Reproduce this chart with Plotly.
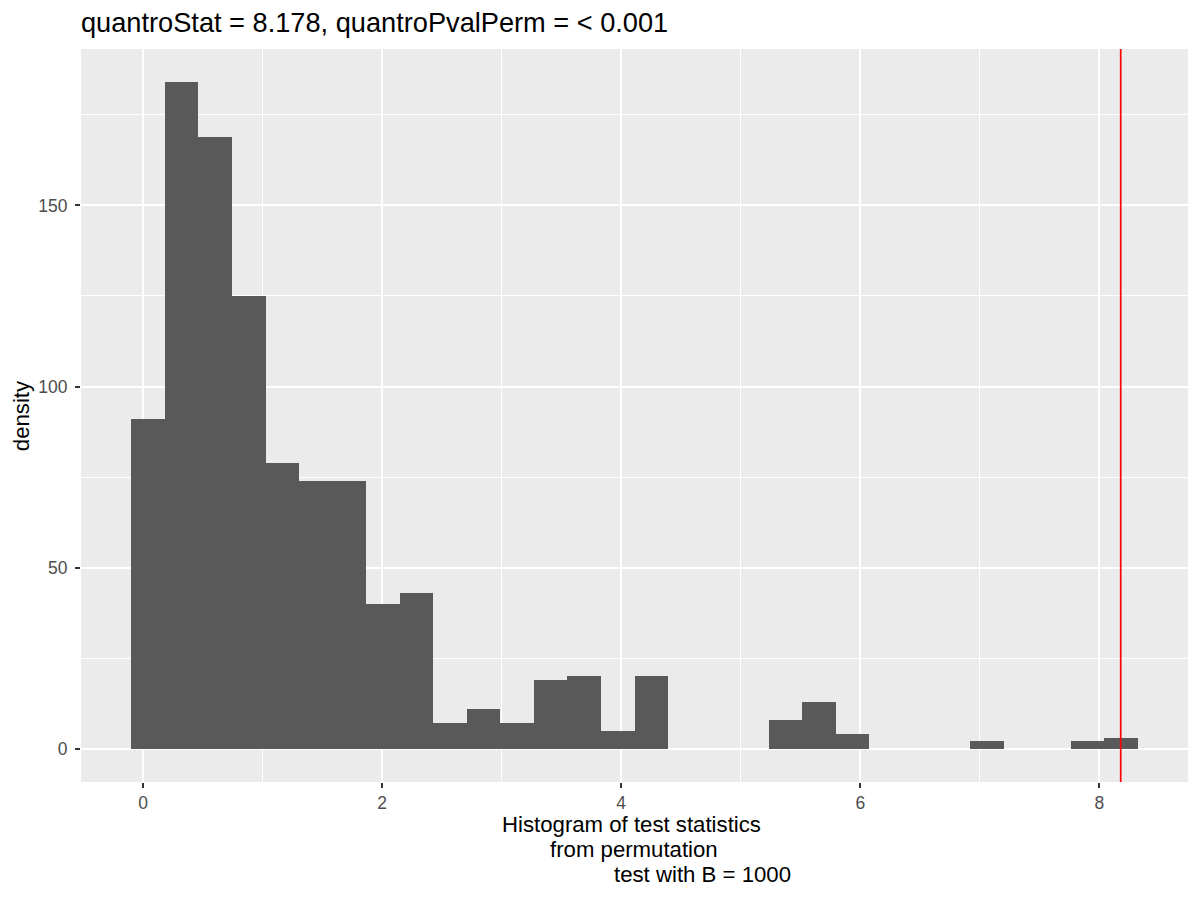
import plotly.graph_objects as go

# ---- data ----
bin_start = -0.098          # left edge of first bin
bin_width = 0.2806          # width of each bin
counts = [91, 184, 169, 125, 79, 74, 74, 40, 43, 7,
          11, 7, 19, 20, 5, 20, 0, 0, 0, 8,
          13, 4, 0, 0, 0, 2, 0, 0, 2, 3]
quantro_stat = 8.178
x_ticks = [0, 2, 4, 6, 8]
y_ticks = [0, 50, 100, 150]
title_text = "quantroStat = 8.178, quantroPvalPerm = < 0.001"
xlab_lines = ["Histogram of test statistics", "from permutation", "test with B = 1000"]
ylab = "density"

centers = [bin_start + bin_width * (i + 0.5) for i in range(len(counts))]

# ggplot-like 5% expansion
x_lo = bin_start
x_hi = bin_start + bin_width * len(counts)
xpad = 0.05 * (x_hi - x_lo)
ymax = max(counts)
ypad = 0.05 * ymax

FONT = "Liberation Sans, Arial, sans-serif"
TICK_SIZE = 17.5
W, H = 1200, 900
ML, MR, MT, MB = 81, 12, 49, 118
PW = W - ML - MR
PH = H - MT - MB

fig = go.Figure()
fig.add_trace(go.Bar(
    x=centers, y=counts, width=bin_width,
    marker=dict(color="#595959", line=dict(width=0)),
    showlegend=False, hoverinfo="x+y",
))

fig.add_shape(type="line", xref="x", yref="paper",
              x0=quantro_stat, x1=quantro_stat, y0=0, y1=1,
              line=dict(color="#FF0000", width=1.7))

def px_to_paper_x(px):
    return (px - ML) / PW

def px_to_paper_y(py):
    return (MT + PH - py) / PH

# x-axis title lines (ggplot-like multi-line label)
xlab_centers = [631.7, 633.5, 702.7]
xlab_mid = [824.5, 849.5, 874.5]
for txt, cx, cy in zip(xlab_lines, xlab_centers, xlab_mid):
    fig.add_annotation(text=txt, xref="paper", yref="paper",
                       x=px_to_paper_x(cx), y=px_to_paper_y(cy),
                       xanchor="center", yanchor="middle", showarrow=False,
                       font=dict(family=FONT, size=22.2, color="#000000"))

fig.add_annotation(text=ylab, xref="paper", yref="paper",
                   x=px_to_paper_x(21.7), y=0.5, textangle=-90,
                   xanchor="center", yanchor="middle", showarrow=False,
                   font=dict(family=FONT, size=22.2, color="#000000"))

fig.update_layout(
    width=W, height=H,
    margin=dict(l=ML, r=MR, t=MT, b=MB, pad=0),
    paper_bgcolor="white",
    plot_bgcolor="#EBEBEB",
    bargap=0,
    font=dict(family=FONT),
    title=dict(text=title_text, x=px_to_paper_x(81), xref="paper", xanchor="left",
               yref="container", y=1 - 22.5 / H, yanchor="middle",
               font=dict(family=FONT, size=27.2, color="#000000")),
)
fig.update_xaxes(range=[x_lo - xpad, x_hi + xpad], tickvals=x_ticks,
                 ticktext=[str(v) for v in x_ticks],
                 showgrid=True, gridcolor="white", gridwidth=2,
                 minor=dict(dtick=1, tick0=0, showgrid=True, gridcolor="white", gridwidth=1),
                 zeroline=False, showline=False,
                 ticks="outside", ticklen=5, tickwidth=1.6, tickcolor="#333333",
                 tickfont=dict(family=FONT, size=TICK_SIZE, color="#4D4D4D"))
fig.update_yaxes(range=[-ypad, ymax + ypad], tickvals=y_ticks,
                 ticktext=[str(v) for v in y_ticks],
                 showgrid=True, gridcolor="white", gridwidth=2,
                 minor=dict(dtick=25, tick0=0, showgrid=True, gridcolor="white", gridwidth=1),
                 zeroline=False, showline=False,
                 ticks="outside", ticklen=5, tickwidth=1.6, tickcolor="#333333",
                 ticklabelstandoff=4,
                 tickfont=dict(family=FONT, size=TICK_SIZE, color="#4D4D4D"))

fig.write_html("out.html",
               config={"displayModeBar": False},
               post_script="document.body.style.margin='0';document.body.style.padding='0';")
